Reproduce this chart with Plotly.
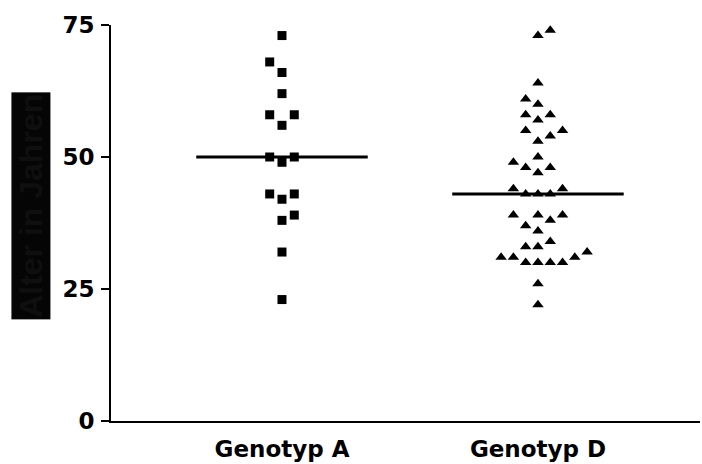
import numpy as np
import plotly.graph_objects as go

# ---- data ----
categories = ["Genotyp A", "Genotyp D"]
genotyp_a = [73, 68, 66, 62, 58, 58, 56, 50, 50, 49, 43, 43, 42, 39, 38, 32, 23]
genotyp_d = [74, 73, 64, 61, 60, 58, 58, 57, 55, 55, 54, 53, 50, 49, 48, 48, 47,
             44, 44, 43, 43, 43, 39, 39, 39, 38, 37, 36, 34, 33, 33, 32, 31, 31,
             31, 30, 30, 30, 30, 26, 22]
y_ticks = [0, 25, 50, 75]
y_title = "Alter in Jahren"


def swarm_offsets(values, step, min_gap):
    """Greedy column layout: centre first, displaced points alternate sides."""
    order = np.argsort(values, kind="stable")
    cols = {}
    offs = [0.0] * len(values)
    side = 1
    for i in order:
        v = values[i]

        def free(c):
            return all(abs(v - w) >= min_gap for w in cols.get(c, []))
        if free(0):
            c = 0
        else:
            k = 1
            c = None
            while c is None:
                for cand in (side * k, -side * k):
                    if free(cand):
                        c = cand
                        break
                k += 1
            side = -side
        cols.setdefault(c, []).append(v)
        offs[i] = c * step
    return offs


fig = go.Figure()
groups = [(genotyp_a, "square", 9), (genotyp_d, "triangle-up", 10)]
for idx, (vals, sym, sz) in enumerate(groups):
    offs = swarm_offsets(vals, 0.048, 2.5)
    fig.add_trace(go.Scatter(
        x=[idx + o for o in offs], y=vals, mode="markers",
        marker=dict(symbol=sym, size=sz, color="black", line=dict(width=0)),
        showlegend=False, hoverinfo="y"))
    med = float(np.median(vals))
    fig.add_trace(go.Scatter(
        x=[idx - 0.335, idx + 0.335], y=[med, med], mode="lines",
        line=dict(color="black", width=3), showlegend=False, hoverinfo="skip"))

tick_font = dict(family="DejaVu Sans", size=23, color="black", weight="bold")

fig.update_layout(
    width=702, height=464,
    margin=dict(l=111, r=2, t=25, b=43),
    paper_bgcolor="white", plot_bgcolor="white",
    xaxis=dict(
        range=[-0.668, 1.633], tickmode="array", tickvals=[0, 1],
        ticktext=categories, showgrid=False, zeroline=False,
        showline=True, linecolor="black", linewidth=2, ticks="",
        tickfont=tick_font, ticklabelstandoff=6),
    yaxis=dict(
        range=[0, 75], tickmode="array", tickvals=y_ticks,
        showgrid=False, zeroline=False, showline=True, linecolor="black",
        linewidth=2, ticks="outside", ticklen=8, tickwidth=1.5,
        tickcolor="black", tickfont=tick_font, ticklabelstandoff=2),
    annotations=[dict(
        text="<b>" + y_title + "</b>", textangle=-90, xref="paper",
        yref="paper", x=-0.136, y=0.543, xanchor="center", yanchor="middle",
        showarrow=False, bgcolor="#050505", borderpad=1,
        font=dict(family="Liberation Sans", size=32, color="#0f0f0f"))],
)

fig.write_html("out.html",
               config={"displayModeBar": False},
               post_script="document.body.style.margin='0';"
                           "document.body.style.overflow='hidden';")
